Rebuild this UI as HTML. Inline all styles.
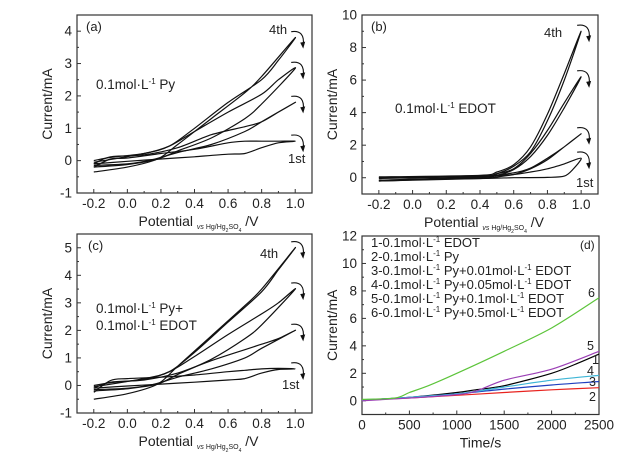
<!DOCTYPE html>
<html><head><meta charset="utf-8">
<style>
html,body{margin:0;padding:0;background:#fff;}
svg{display:block;font-family:"Liberation Sans",Arial,sans-serif;}
</style></head>
<body>
<svg id="fig" width="626" height="458" viewBox="0 0 626 458"></svg>
<script>
// ---------- DATA ----------
const cvPotential = [-0.2,0,0.2,0.4,0.6,0.8,1.0];
const xTicksCV = ["-0.2","0.0","0.2","0.4","0.6","0.8","1.0"];
// Panel (a) cycles: [E, I] points (forward then reverse)
const aCycle1 = [[-0.2,-0.1],[0,-0.02],[0.2,0.05],[0.4,0.12],[0.6,0.2],[0.7,0.22],[0.8,0.4],[0.9,0.55],[1.0,0.6],[0.9,0.6],[0.8,0.6],[0.7,0.6],[0.6,0.55],[0.4,0.35],[0.2,0.22],[0,0.08],[-0.1,0.05],[-0.2,-0.2]];
const aCycle2 = [[-0.2,-0.15],[0,-0.1],[0.15,0.03],[0.3,0.25],[0.5,0.5],[0.7,0.9],[0.8,1.2],[1.0,1.8],[0.9,1.5],[0.8,1.2],[0.7,1.05],[0.5,0.8],[0.3,0.4],[0.1,0.18],[-0.1,0.12],[-0.2,-0.1]];
const aCycle3 = [[-0.2,-0.2],[0,-0.12],[0.18,0.05],[0.3,0.3],[0.5,0.7],[0.7,1.3],[0.8,1.75],[1.0,2.85],[0.9,2.5],[0.8,2.05],[0.6,1.5],[0.4,0.9],[0.25,0.45],[0.1,0.22],[-0.1,0.1],[-0.2,0]];
const aCycle4 = [[-0.2,-0.35],[0,-0.2],[0.18,0.05],[0.3,0.5],[0.5,1.3],[0.7,2.1],[0.8,2.6],[1.0,3.8],[0.9,3.1],[0.8,2.5],[0.6,1.8],[0.4,1.0],[0.25,0.45],[0.1,0.22],[-0.2,-0.05]];
// Panel (b)
const bCycle1 = [[-0.2,-0.15],[0.4,-0.05],[0.6,0.0],[0.8,0.02],[0.9,0.1],[0.95,0.5],[1.0,1.2],[0.9,0.85],[0.8,0.55],[0.7,0.35],[0.6,0.2],[0.4,0.08],[-0.2,-0.05]];
const bCycle2 = [[-0.2,-0.2],[0.4,-0.05],[0.5,0.05],[0.6,0.2],[0.7,0.55],[0.8,1.1],[0.9,1.9],[1.0,2.7],[0.9,1.9],[0.8,1.2],[0.7,0.6],[0.6,0.3],[0.4,0.1],[-0.2,0.0]];
const bCycle3 = [[-0.2,-0.2],[0.4,0.0],[0.5,0.15],[0.6,0.5],[0.7,1.3],[0.8,2.6],[0.9,4.3],[1.0,6.2],[0.9,4.6],[0.8,2.9],[0.7,1.5],[0.6,0.55],[0.5,0.25],[0.4,0.1],[-0.2,0.0]];
const bCycle4 = [[-0.2,-0.15],[0.4,0.05],[0.5,0.25],[0.6,0.7],[0.7,1.6],[0.8,3.5],[0.9,6.0],[1.0,9.0],[0.9,6.4],[0.8,3.9],[0.7,1.9],[0.6,0.8],[0.5,0.35],[0.4,0.15],[-0.2,0.05]];
// Panel (c)
const cCycle1 = [[-0.2,-0.1],[0,-0.02],[0.2,0.05],[0.4,0.12],[0.6,0.2],[0.7,0.25],[0.8,0.45],[0.9,0.58],[1.0,0.6],[0.9,0.62],[0.8,0.6],[0.7,0.55],[0.6,0.5],[0.4,0.38],[0.2,0.3],[0,0.25],[-0.1,0.18],[-0.2,-0.25]];
const cCycle2 = [[-0.2,-0.15],[0,-0.1],[0.15,0.03],[0.3,0.3],[0.5,0.6],[0.7,1.0],[0.8,1.35],[1.0,2.0],[0.9,1.7],[0.8,1.5],[0.7,1.3],[0.5,0.9],[0.3,0.45],[0.1,0.2],[-0.1,0.12],[-0.2,-0.1]];
const cCycle3 = [[-0.2,-0.2],[0,-0.12],[0.18,0.05],[0.3,0.4],[0.5,0.95],[0.7,1.7],[0.8,2.2],[1.0,3.5],[0.9,3.0],[0.8,2.6],[0.6,1.85],[0.4,1.05],[0.25,0.5],[0.1,0.22],[-0.1,0.1],[-0.2,0]];
const cCycle4 = [[-0.2,-0.5],[0,-0.3],[0.18,0.05],[0.3,0.7],[0.5,1.8],[0.7,2.9],[0.8,3.5],[1.0,5.0],[0.9,4.2],[0.8,3.4],[0.6,2.3],[0.4,1.2],[0.25,0.5],[0.1,0.25],[-0.2,-0.05]];
// Panel (d)
const timeS = [0,500,1000,1500,2000,2500];
const xTicksD = ["0","500","1000","1500","2000","2500"];
const series1 = [[0,0.05],[500,0.25],[1000,0.6],[1200,0.8],[1500,1.1],[2000,2.0],[2300,2.8],[2500,3.4]];
const series2 = [[0,0.05],[500,0.2],[1000,0.4],[1500,0.6],[2000,0.8],[2500,0.95]];
const series3 = [[0,0.05],[500,0.25],[1000,0.5],[1500,0.85],[2000,1.15],[2500,1.4]];
const series4 = [[0,0.05],[500,0.25],[1000,0.5],[1500,1.0],[2000,1.5],[2500,1.85]];
const series5 = [[0,0.0],[500,0.2],[1000,0.45],[1200,0.7],[1500,1.5],[2000,2.3],[2500,3.6]];
const series6 = [[0,0.1],[350,0.2],[500,0.6],[700,1.1],[1000,2.0],[1500,3.6],[2000,5.3],[2500,7.5]];
const seriesColors = ["#000","#e8231f","#1f3fbf","#3fb6d6","#9b3fb5","#5cc43a"];
const legendLabels = ["1-0.1mol·L","2-0.1mol·L","3-0.1mol·L","4-0.1mol·L","5-0.1mol·L","6-0.1mol·L"];
const legendTails = [[" EDOT"],[" Py"],[" Py+0.01mol·L"," EDOT"],[" Py+0.05mol·L"," EDOT"],[" Py+0.1mol·L"," EDOT"],[" Py+0.5mol·L"," EDOT"]];

// ---------- HELPERS ----------
const NS="http://www.w3.org/2000/svg";
const svg=document.getElementById('fig');
function mk(tag,attrs,parent){const e=document.createElementNS(NS,tag);for(const k in attrs)e.setAttribute(k,attrs[k]);(parent||svg).appendChild(e);return e;}
function axis(x0,x1,px0,px1){return v=>px0+(v-x0)/(x1-x0)*(px1-px0);}
function smoothPath(P){
  let d='M'+P[0][0].toFixed(1)+' '+P[0][1].toFixed(1);
  for(let i=0;i<P.length-1;i++){
    const p0=P[Math.max(0,i-1)],p1=P[i],p2=P[i+1],p3=P[Math.min(P.length-1,i+2)];
    const t=0.15;
    const c1=[p1[0]+(p2[0]-p0[0])*t,p1[1]+(p2[1]-p0[1])*t];
    const c2=[p2[0]-(p3[0]-p1[0])*t,p2[1]-(p3[1]-p1[1])*t];
    d+=` C${c1[0].toFixed(1)} ${c1[1].toFixed(1)} ${c2[0].toFixed(1)} ${c2[1].toFixed(1)} ${p2[0].toFixed(1)} ${p2[1].toFixed(1)}`;
  }
  return d;
}

function panel(p){
  const g=mk('g',{});
  
  
  const X=axis(p.xmin,p.xmax,p.L,p.R), Y=axis(p.ymin,p.ymax,p.B,p.T);
  const fr=mk('rect',{x:p.L,y:p.T,width:p.R-p.L,height:p.B-p.T,fill:'none',stroke:'#333','stroke-width':1.2},g);
  
  
  p.xt.forEach((v,i)=>{
    const x=X(v);
    mk('line',{x1:x,y1:p.B,x2:x,y2:p.B-4,stroke:'#333'},g);
    const t=mk('text',{x:x,y:p.B+15,'text-anchor':'middle','font-size':13.5,fill:'#222'},g);
    t.textContent=p.xl[i];
    
    
    if(i<p.xt.length-1){const xm=X((v+p.xt[i+1])/2);mk('line',{x1:xm,y1:p.B,x2:xm,y2:p.B-2,stroke:'#333'},g);}
  });
  p.yt.forEach((v,i)=>{
    const y=Y(v);
    mk('line',{x1:p.L,y1:y,x2:p.L+4,y2:y,stroke:'#333'},g);
    const t=mk('text',{x:p.L-5,y:y+4.5,'text-anchor':'end','font-size':13.5,fill:'#222'},g);
    t.textContent=String(v);
    
    
    if(i<p.yt.length-1){const ym=Y((v+p.yt[i+1])/2);mk('line',{x1:p.L,y1:ym,x2:p.L+2,y2:ym,stroke:'#333'},g);}
  });
  const yc=(p.T+p.B)/2, yx=p.L-25;
  const yt=mk('text',{x:yx,y:yc,'text-anchor':'middle','font-size':14,fill:'#222',transform:`rotate(-90 ${yx} ${yc})`},g);
  yt.textContent='Current/mA';
  
  
  const xt=mk('text',{x:(p.L+p.R)/2+(p.cv?4:0),y:p.B+33,'text-anchor':'middle','font-size':14,fill:'#222'},g);
  
  
  if(p.cv){
    xt.innerHTML='Potential <tspan font-size="7" font-style="italic" dy="3">vs </tspan><tspan font-size="7">Hg/Hg</tspan><tspan font-size="5" dy="3">2</tspan><tspan font-size="7" dy="-3">SO</tspan><tspan font-size="5" dy="3">4</tspan><tspan dy="-6"> /V</tspan>';
  } else xt.textContent='Time/s';
  p.series.forEach((s,i)=>{
    const pts=s.map(pt=>[X(pt[0]),Y(pt[1])]);
    const path=mk('path',{d:smoothPath(pts),fill:'none',stroke:p.colors?p.colors[i]:'#111','stroke-width':1.2,'stroke-linejoin':'round'},g);
    
    
  });
  if(p.cv){
    p.series.forEach(s=>{
      const pk=s[s.findIndex(q=>q[0]===1.0)];
      const x=X(1.0)+2,y=Y(pk[1]);
      const a=mk('path',{d:`M${x-6} ${y-6} Q${x+8} ${y-8} ${x+6} ${y+8}`,fill:'none',stroke:'#111','stroke-width':1.1},g);
      
      
      mk('path',{d:`M${x+3} ${y+5} L${x+6} ${y+11} L${x+8} ${y+4} Z`,fill:'#111'},g);
    });
  }
  return {g,X,Y};
}
function txt(x,y,s,size,name,anchor){const t=mk('text',{x:x,y:y,'font-size':size,fill:'#222','text-anchor':anchor||'start'});t.innerHTML=s;return t;}
const sup='<tspan font-size="8" dy="-5">-1</tspan><tspan dy="5">';

// ---------- PANELS ----------
panel({name:'panel-a',L:77,R:312,T:15,B:193,xmin:-0.3,xmax:1.1,ymin:-1,ymax:4.5,xt:cvPotential,xl:xTicksCV,yt:[-1,0,1,2,3,4],series:[aCycle1,aCycle2,aCycle3,aCycle4],seriesName:'cv-cycle-a',cv:true});
txt(86,31,'(a)',13,'panel-label-a');
txt(269,34,'4th',13,'label-4th-a');
txt(288,163,'1st',13,'label-1st-a');
txt(96,89,'0.1mol·L'+sup+' Py</tspan>',13.5,'annotation-a');

panel({name:'panel-b',L:362,R:598,T:15,B:194,xmin:-0.3,xmax:1.1,ymin:-1,ymax:10,xt:cvPotential,xl:xTicksCV,yt:[0,2,4,6,8,10],series:[bCycle1,bCycle2,bCycle3,bCycle4],seriesName:'cv-cycle-b',cv:true});
txt(371,31,'(b)',13,'panel-label-b');
txt(544,37,'4th',13,'label-4th-b');
txt(576,187,'1st',13,'label-1st-b');
txt(395,113,'0.1mol·L'+sup+' EDOT</tspan>',13.5,'annotation-b');

panel({name:'panel-c',L:77,R:312,T:234,B:413,xmin:-0.3,xmax:1.1,ymin:-1,ymax:5.5,xt:cvPotential,xl:xTicksCV,yt:[-1,0,1,2,3,4,5],series:[cCycle1,cCycle2,cCycle3,cCycle4],seriesName:'cv-cycle-c',cv:true});
txt(88,250,'(c)',13,'panel-label-c');
txt(260,258,'4th',13,'label-4th-c');
txt(282,389,'1st',13,'label-1st-c');
txt(96,313,'0.1mol·L'+sup+' Py+</tspan>',13.5,'annotation-c-line1');
txt(96,330,'0.1mol·L'+sup+' EDOT</tspan>',13.5,'annotation-c-line2');

panel({name:'panel-d',L:362,R:599,T:236,B:414.5,xmin:0,xmax:2500,ymin:-1,ymax:12,xt:timeS,xl:xTicksD,yt:[0,2,4,6,8,10,12],series:[series1,series2,series3,series4,series5,series6],seriesName:'current-series',colors:seriesColors,cv:false});
txt(580,249,'(d)',12,'panel-label-d');
legendLabels.forEach((l,i)=>{
  const tails=legendTails[i];
  let s=l+sup+tails[0]+'</tspan>';
  if(tails.length>1) s+='<tspan font-size="8" dy="-5">-1</tspan><tspan dy="5">'+tails[1]+'</tspan>';
  txt(371,247+i*14,s,13,'legend-entry');
});
[['6',588,297],['5',587,350],['1',592,364],['4',587,375],['3',589,386],['2',589,401]].forEach(a=>txt(a[1],a[2],a[0],12.5,'series-number-label'));
</script>
</body></html>
